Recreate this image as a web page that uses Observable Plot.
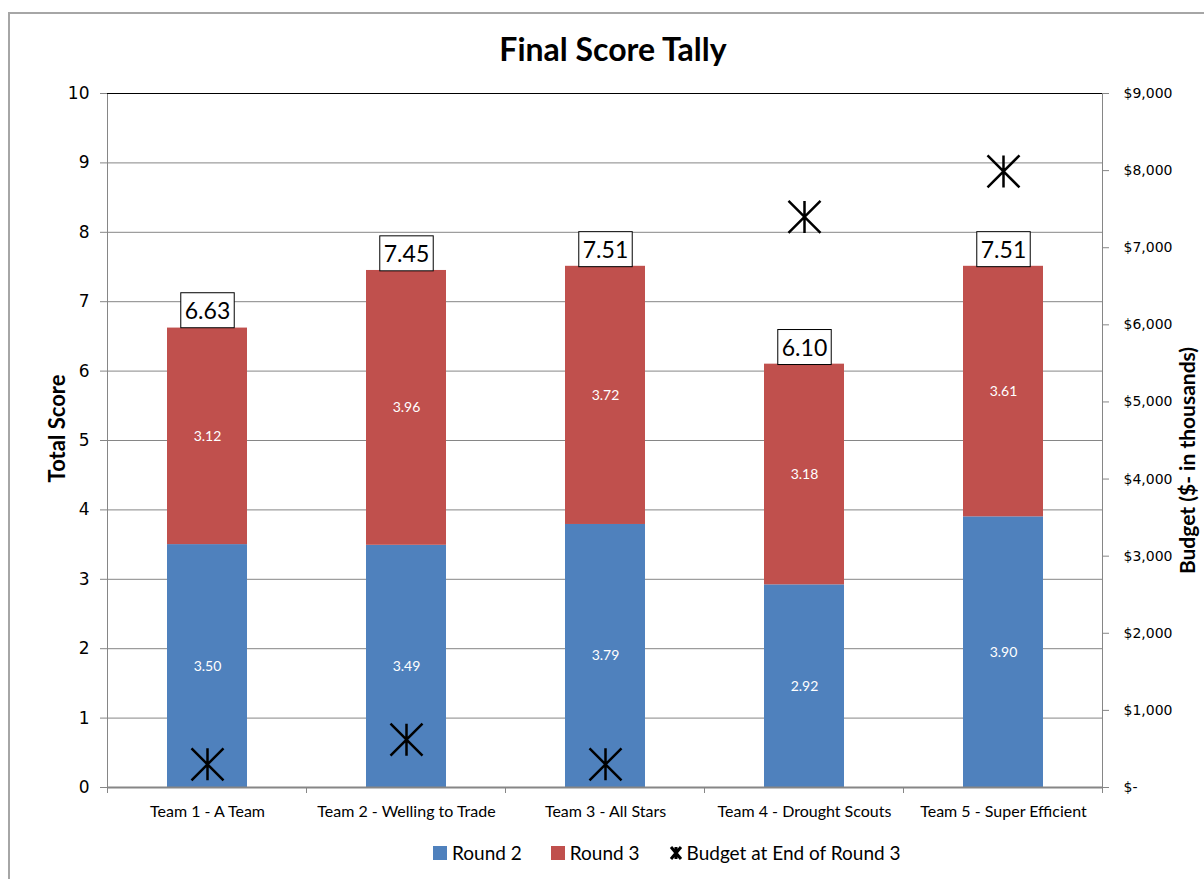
<!DOCTYPE html>
<html><head><meta charset="utf-8">
<script src="https://cdn.jsdelivr.net/npm/d3@7"></script>
<script src="https://cdn.jsdelivr.net/npm/@observablehq/plot@0.6"></script>
<style>
body{margin:0;background:#fff;}
#wrap{position:relative;width:1204px;height:879px;overflow:hidden;background:#fff;font-family:Lato,sans-serif;color:#000;}
#border{position:absolute;left:8px;top:12px;width:1400px;height:1000px;border-left:2px solid #a6a6a6;border-top:2px solid #a6a6a6;}
#title{position:absolute;left:22px;top:33px;width:1182px;text-align:center;font-weight:bold;font-size:32px;line-height:32px;}
#chart{position:absolute;left:0;top:80px;}
#legend{position:absolute;left:433px;top:841px;display:flex;align-items:center;font-size:19px;line-height:24px;white-space:nowrap;}
#legend .sw{display:inline-block;width:14px;height:14px;margin-right:5px;}
#legend .item{display:flex;align-items:center;margin-right:29px;}
#legend svg{margin-right:4px;}
</style></head>
<body>
<div id="wrap">
  <div id="border"></div>
  <div id="title">Final Score Tally</div>
  <div id="chart"></div>
  <div id="legend"></div>
</div>
<script>
const teams = ["Team 1 - A Team","Team 2 - Welling to Trade","Team 3 - All Stars","Team 4 - Drought Scouts","Team 5 - Super Efficient"];
const round2 = [3.50, 3.49, 3.79, 2.92, 3.90];
const round3 = [3.12, 3.96, 3.72, 3.18, 3.61];
const totals = [6.63, 7.45, 7.51, 6.10, 7.51];
const budget = [300, 620, 300, 7400, 7990]; // $ thousands, right axis
const seriesNames = ["Round 2", "Round 3", "Budget at End of Round 3"];
const seriesColors = ["#4F81BD", "#C0504D", "#000000"];
const scoreTicks = [0,1,2,3,4,5,6,7,8,9,10];
const budgetTicks = [0,1000,2000,3000,4000,5000,6000,7000,8000,9000];
const scoreMax = 10, budgetMax = 9000;
const toScore = b => b * scoreMax / budgetMax;

const segs = teams.flatMap((t, i) => [
  {team: t, round: seriesNames[0], value: round2[i]},
  {team: t, round: seriesNames[1], value: round3[i]}
]);
const totalData = teams.map((t, i) => ({team: t, total: totals[i]}));
const budgetData = teams.map((t, i) => ({team: t, budget: budget[i]}));

const starSymbol = {
  draw(ctx, size) {
    const r = Math.sqrt(size / Math.PI);
    ctx.moveTo(0, -r); ctx.lineTo(0, r);
    ctx.moveTo(-r, -r); ctx.lineTo(r, r);
    ctx.moveTo(-r, r); ctx.lineTo(r, -r);
  }
};

const fmtBudget = b => b === 0 ? "$-" : "$" + d3.format(",")(b);

function boundaryTicks(index, scales, values, dims) {
  const x = scales.x;
  const g = d3.create("svg:g");
  const bw = x.bandwidth ? x.bandwidth() : 0;
  const step = x.step ? x.step() : (x(teams[1]) - x(teams[0]));
  const y0 = dims.height - dims.marginBottom;
  const pos = teams.map(t => x(t) + bw / 2 - step / 2);
  pos.push(x(teams[teams.length - 1]) + bw / 2 + step / 2);
  for (const p of pos) {
    g.append("line").attr("x1", p).attr("x2", p).attr("y1", y0).attr("y2", y0 + 6)
      .attr("stroke", "#868686").attr("stroke-width", 1);
  }
  return g.node();
}

const chart = Plot.plot({
  width: 1204,
  height: 747,
  marginTop: 13,
  marginBottom: 40,
  marginLeft: 107,
  marginRight: 102,
  style: {fontFamily: "Lato, sans-serif", background: "transparent"},
  x: {domain: teams, paddingInner: 0.6, paddingOuter: 0.3, label: null},
  y: {domain: [0, scoreMax], label: null},
  color: {domain: seriesNames.slice(0, 2), range: seriesColors.slice(0, 2)},
  marks: [
    Plot.gridY(scoreTicks, {stroke: "#868686", strokeOpacity: 1, strokeWidth: 1}),
    Plot.frame({stroke: "#868686", strokeWidth: 1}),
    Plot.barY(segs, {x: "team", y: "value", fill: "round"}),
    Plot.ruleY([0], {stroke: "#868686", strokeWidth: 2}),
    Plot.ruleY([scoreMax], {stroke: "#000", strokeWidth: 1}),
    Plot.text(segs, Plot.stackY({x: "team", y: "value", text: d => d.value.toFixed(2), fill: "white", fontSize: 14})),
    Plot.text(totalData, {x: "team", y: "total", text: d => d.total.toFixed(2), dy: -16, fontSize: 23, fill: "black", className: "totalLabel"}),
    Plot.dot(budgetData, {x: "team", y: d => toScore(d.budget), symbol: starSymbol, r: 16, fill: "none", stroke: "black", strokeWidth: 2.5}),
    Plot.axisY(scoreTicks, {anchor: "left", tickSize: 7, tickPadding: 11, fontSize: 17, fontFamily: "DejaVu Sans", stroke: "#868686", label: null, tickFormat: d3.format("d")}),
    Plot.axisY(budgetTicks.map(toScore), {anchor: "right", tickSize: 6, tickPadding: 15, fontSize: 14, fontFamily: "DejaVu Sans", stroke: "#868686", label: null, tickFormat: d => fmtBudget(Math.round(d * budgetMax / scoreMax))}),
    Plot.axisX({anchor: "bottom", tickSize: 0, tickPadding: 18, fontSize: 16, label: null}),
    boundaryTicks,
    Plot.text(["Total Score"], {frameAnchor: "left", textAnchor: "middle", rotate: -90, dx: -50, dy: -12, fontSize: 22, fontWeight: "bold"}),
    Plot.text(["Budget ($- in thousands)"], {frameAnchor: "right", textAnchor: "middle", rotate: -90, dx: 86, dy: 20, fontSize: 21, fontWeight: "bold"})
  ]
});
document.getElementById("chart").appendChild(chart);

// boxes around total labels
function addBoxes() {
  let texts = chart.querySelectorAll(".totalLabel text");
  if (!texts.length) {
    texts = Array.from(chart.querySelectorAll("g[font-size='23'] text"));
  }
  chart.querySelectorAll("rect.totalBox").forEach(r => r.remove());
  texts.forEach(t => {
    const bb = t.getBBox();
    const cx = bb.x + bb.width / 2;
    const cy = bb.y + bb.height / 2 + 0.5;
    const w = bb.width + 8, h = 35;
    const rect = document.createElementNS("http://www.w3.org/2000/svg", "rect");
    rect.setAttribute("class", "totalBox");
    rect.setAttribute("x", cx - w / 2);
    rect.setAttribute("y", cy - h / 2);
    rect.setAttribute("width", w);
    rect.setAttribute("height", h);
    rect.setAttribute("fill", "white");
    rect.setAttribute("stroke", "black");
    rect.setAttribute("stroke-width", 1);
    if (t.getAttribute("transform")) rect.setAttribute("transform", t.getAttribute("transform"));
    t.parentNode.insertBefore(rect, t);
  });
}
addBoxes();

// legend
const legend = document.getElementById("legend");
seriesNames.forEach((name, i) => {
  const item = document.createElement("span");
  item.className = "item";
  if (i < 2) {
    const sw = document.createElement("span");
    sw.className = "sw";
    sw.style.background = seriesColors[i];
    item.appendChild(sw);
  } else {
    const ns = "http://www.w3.org/2000/svg";
    const s = document.createElementNS(ns, "svg");
    s.setAttribute("width", 14); s.setAttribute("height", 14);
    s.setAttribute("viewBox", "-7 -7 14 14");
    const p = document.createElementNS(ns, "path");
    p.setAttribute("d", "M0,-6V6M-5,-6L5,6M-5,6L5,-6");
    p.setAttribute("stroke", seriesColors[i]);
    p.setAttribute("stroke-width", 3);
    p.setAttribute("fill", "none");
    s.appendChild(p);
    item.appendChild(s);
  }
  const label = document.createElement("span");
  label.textContent = name;
  item.appendChild(label);
  legend.appendChild(item);
});
</script>
</body></html>
